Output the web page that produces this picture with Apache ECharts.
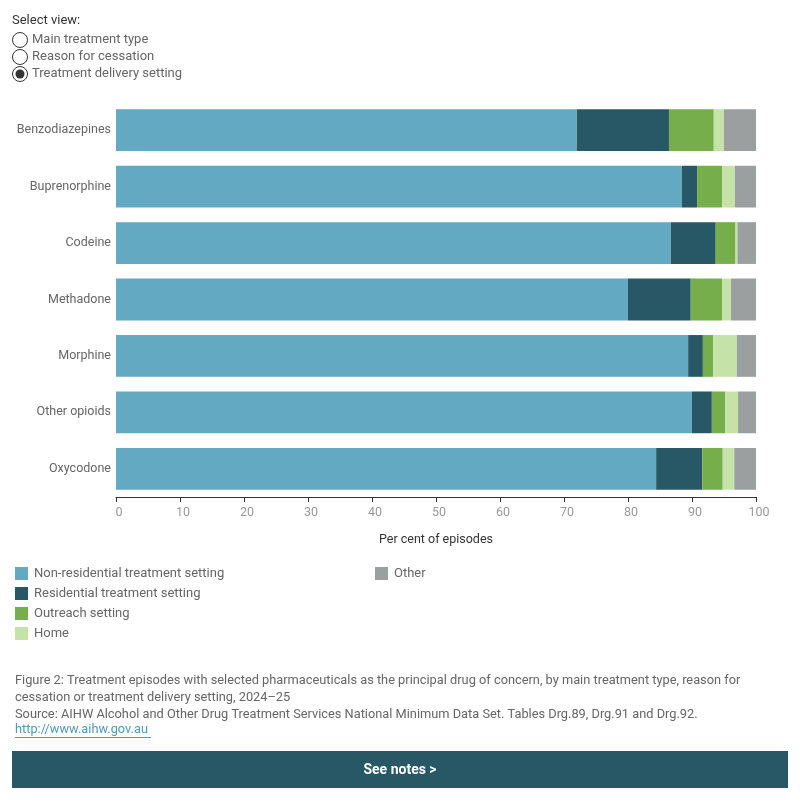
<!DOCTYPE html>
<html>
<head>
<meta charset="utf-8">
<script src="https://cdn.jsdelivr.net/npm/echarts@6/dist/echarts.min.js"></script>
<style>
  html, body { margin: 0; padding: 0; background: #fff; }
  #main { width: 800px; height: 800px; }
</style>
</head>
<body>
<div id="main"></div>
<script>
// drugs, top to bottom
const drugs = ['Benzodiazepines', 'Buprenorphine', 'Codeine', 'Methadone', 'Morphine', 'Other opioids', 'Oxycodone'];
// per cent of episodes by delivery setting
const nonResidential = [72.0, 88.4, 86.7, 80.0, 89.4, 90.0, 84.4];
const residential = [14.4, 2.4, 7.0, 9.8, 2.3, 3.1, 7.2];
const outreach = [7.0, 3.9, 3.1, 4.9, 1.6, 2.1, 3.2];
const home = [1.6, 2.0, 0.3, 1.4, 3.7, 2.0, 1.8];
const other = [5.0, 3.3, 2.9, 3.9, 3.0, 2.8, 3.4];
const xTicks = [0, 10, 20, 30, 40, 50, 60, 70, 80, 90, 100];

const FONT = 'Roboto';
const textGrey = '#666';

let myChart = echarts.init(document.getElementById('main'));

function bar(name, data, color) {
  return {
    name: name,
    type: 'bar',
    stack: 'total',
    barCategoryGap: '26%',
    data: data,
    itemStyle: { color: color },
    emphasis: { disabled: true }
  };
}

let option = {
  animation: false,
  textStyle: { fontFamily: FONT },
  grid: { left: 116, right: 44, top: 102, bottom: 303 },
  xAxis: {
    type: 'value',
    min: xTicks[0],
    max: xTicks[xTicks.length - 1],
    interval: 10,
    name: 'Per cent of episodes',
    nameLocation: 'middle',
    nameGap: 36,
    nameTextStyle: { color: '#333', fontSize: 12.5, fontFamily: FONT },
    axisLine: { show: true, lineStyle: { color: '#333', width: 1 } },
    axisTick: { show: true, length: 5, lineStyle: { color: '#333' } },
    axisLabel: { color: '#999', fontSize: 12.5, margin: 9, fontFamily: FONT, padding: [0, 0, 0, 6] },
    splitLine: { show: false }
  },
  yAxis: {
    type: 'category',
    data: drugs,
    inverse: true,
    axisLine: { show: false },
    axisTick: { show: false },
    axisLabel: { color: textGrey, fontSize: 12.5, margin: 5, fontFamily: FONT }
  },
  legend: [
    {
      data: ['Non-residential treatment setting', 'Residential treatment setting', 'Outreach setting', 'Home'],
      orient: 'vertical',
      left: 10, top: 562,
      itemWidth: 13, itemHeight: 13, itemGap: 7,
      icon: 'rect',
      selectedMode: false,
      textStyle: { color: textGrey, fontSize: 13, fontFamily: FONT, padding: [0, 0, 0, 1] }
    },
    {
      data: ['Other'],
      orient: 'vertical',
      left: 370, top: 562,
      itemWidth: 13, itemHeight: 13,
      icon: 'rect',
      selectedMode: false,
      textStyle: { color: textGrey, fontSize: 13, fontFamily: FONT, padding: [0, 0, 0, 1] }
    }
  ],
  series: [
    bar('Non-residential treatment setting', nonResidential, '#62a9c1'),
    bar('Residential treatment setting', residential, '#285766'),
    bar('Outreach setting', outreach, '#75ae4b'),
    bar('Home', home, '#c5e3a8'),
    bar('Other', other, '#9b9fa0')
  ],
  graphic: [
    { type: 'text', left: 12, top: 14, style: { text: 'Select view:', fill: '#333', font: '13px ' + FONT } },
    { type: 'circle', shape: { cx: 20, cy: 40, r: 7.5 }, style: { fill: '#fff', stroke: '#333', lineWidth: 1 } },
    { type: 'circle', shape: { cx: 20, cy: 57, r: 7.5 }, style: { fill: '#fff', stroke: '#333', lineWidth: 1 } },
    { type: 'circle', shape: { cx: 20, cy: 74, r: 7.5 }, style: { fill: '#fff', stroke: '#333', lineWidth: 1 } },
    { type: 'circle', shape: { cx: 20, cy: 74, r: 4.5 }, style: { fill: '#333' } },
    { type: 'text', left: 32, top: 33, style: { text: 'Main treatment type', fill: textGrey, font: '13px ' + FONT } },
    { type: 'text', left: 32, top: 50, style: { text: 'Reason for cessation', fill: textGrey, font: '13px ' + FONT } },
    { type: 'text', left: 32, top: 67, style: { text: 'Treatment delivery setting', fill: textGrey, font: '13px ' + FONT } },
    {
      type: 'text', left: 15, top: 672,
      style: {
        text: 'Figure 2: Treatment episodes with selected pharmaceuticals as the principal drug of concern, by main treatment type, reason for\ncessation or treatment delivery setting, 2024–25\nSource: AIHW Alcohol and Other Drug Treatment Services National Minimum Data Set. Tables Drg.89, Drg.91 and Drg.92.',
        fill: textGrey, font: '12.8px ' + FONT, lineHeight: 17
      }
    },
    { type: 'text', left: 15, top: 723, style: { text: 'http://www.aihw.gov.au', fill: '#4a9cb8', font: '12.8px ' + FONT } },
    { type: 'rect', shape: { x: 15, y: 737, width: 136, height: 1 }, style: { fill: '#4a9cb8' } },
    { type: 'rect', shape: { x: 12, y: 751, width: 776, height: 37 }, style: { fill: '#285766' } },
    {
      type: 'text', x: 400, y: 770,
      style: { text: 'See notes >', fill: '#fff', font: 'bold 14px ' + FONT, align: 'center', verticalAlign: 'middle' }
    }
  ]
};

myChart.setOption(option);
</script>
</body>
</html>
